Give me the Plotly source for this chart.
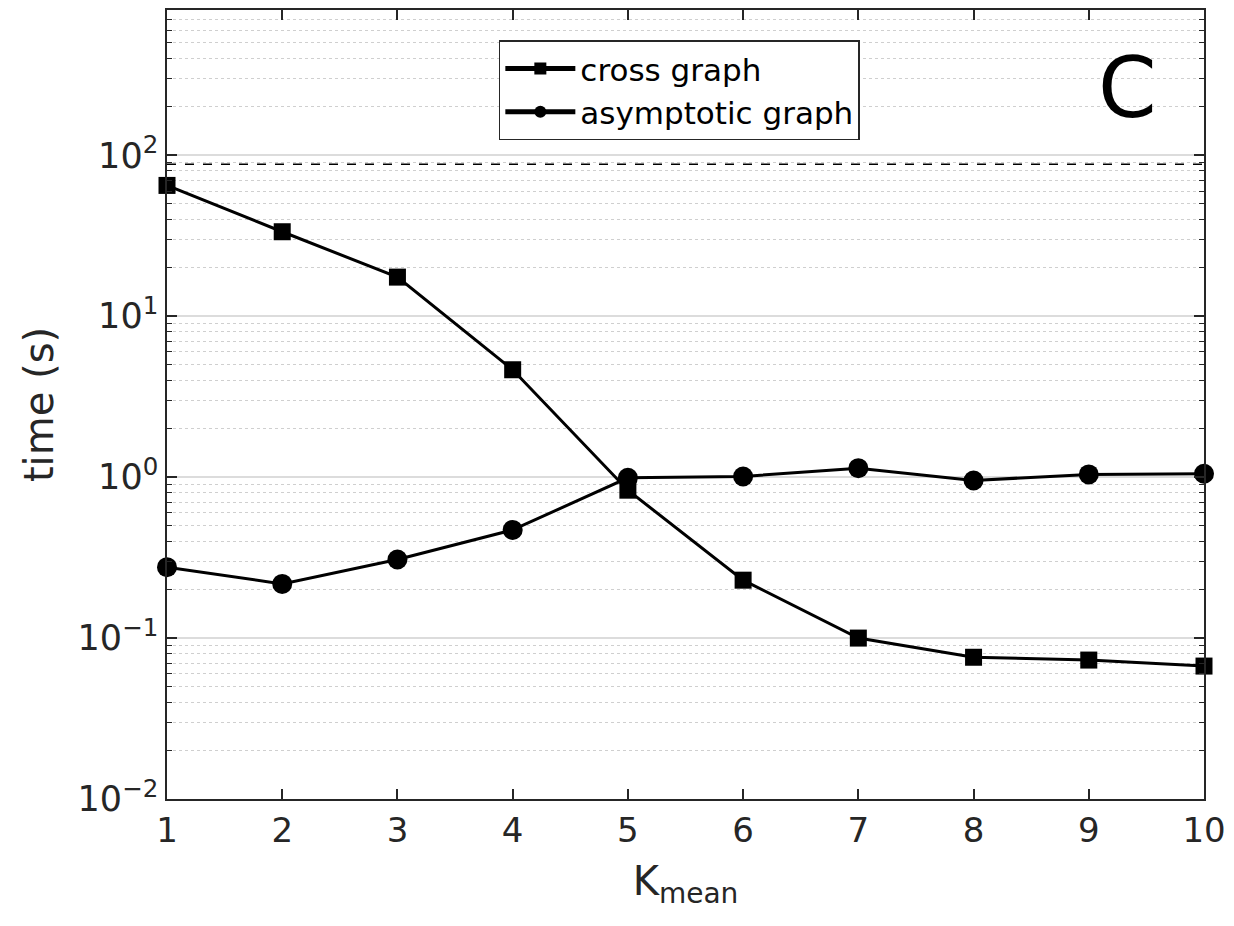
import plotly.graph_objects as go

k_mean = [1, 2, 3, 4, 5, 6, 7, 8, 9, 10]
cross_graph = [65.0, 33.5, 17.5, 4.65, 0.83, 0.229, 0.100, 0.076, 0.073, 0.067]
asymptotic_graph = [0.276, 0.217, 0.308, 0.470, 0.99, 1.01, 1.137, 0.954, 1.04, 1.05]
ref_level = 88.0
y_tick_vals = [0.01, 0.1, 1, 10, 100]
y_tick_text = ["10<sup>\u22122</sup>", "10<sup>\u22121</sup>", "10<sup>0</sup>", "10<sup>1</sup>", "10<sup>2</sup>"]
x_tick_vals = [1, 2, 3, 4, 5, 6, 7, 8, 9, 10]
minor_vals = [m * 10 ** e for e in range(-2, 3) for m in range(2, 10)]

ink = "#262626"
font_family = "DejaVu Sans, Verdana, sans-serif"

fig = go.Figure()
fig.add_trace(go.Scatter(
    x=[k_mean[0], k_mean[-1]], y=[ref_level, ref_level], mode="lines",
    line=dict(color="black", width=1.5, dash="dash"), showlegend=False, hoverinfo="skip"))
fig.add_trace(go.Scatter(
    x=k_mean, y=cross_graph, mode="lines+markers", name="cross graph",
    line=dict(color="black", width=3),
    marker=dict(symbol="square", size=17, color="black"), cliponaxis=False))
fig.add_trace(go.Scatter(
    x=k_mean, y=asymptotic_graph, mode="lines+markers", name="asymptotic graph",
    line=dict(color="black", width=3),
    marker=dict(symbol="circle", size=20, color="black"), cliponaxis=False))

fig.update_layout(
    width=1234, height=926,
    margin=dict(l=167, r=27, t=8, b=127),
    paper_bgcolor="white", plot_bgcolor="white",
    font=dict(family=font_family, color=ink, size=34),
    showlegend=True,
    legend=dict(x=0.320, y=0.9615, xanchor="left", yanchor="top",
                bgcolor="white", bordercolor=ink, borderwidth=1.5,
                font=dict(size=31, color="black"), tracegroupgap=0,
                itemsizing="constant", itemwidth=70),
    annotations=[dict(text="C", x=0.926, y=0.901, xref="paper", yref="paper",
                      showarrow=False, font=dict(size=84, color="black"),
                      xanchor="center", yanchor="middle")],
)
fig.update_xaxes(
    range=[1, 10], tickvals=x_tick_vals, showgrid=False, zeroline=False,
    showline=True, linecolor=ink, linewidth=1.5, mirror="ticks",
    ticks="inside", ticklen=10, tickwidth=1.5, tickcolor=ink,
    tickfont=dict(size=34, color=ink),
    title=dict(text="K<sub>mean</sub>", font=dict(size=40, color=ink), standoff=18))
fig.update_yaxes(
    type="log", range=[-2, 2.903], tickvals=y_tick_vals, ticktext=y_tick_text,
    showgrid=True, gridcolor="#dcdcdc", gridwidth=1.5, zeroline=False,
    showline=True, linecolor=ink, linewidth=1.5, mirror="ticks",
    ticks="inside", ticklen=10, tickwidth=1.5, tickcolor=ink,
    tickfont=dict(size=35, color=ink),
    minor=dict(tickmode="array", tickvals=minor_vals, ticks="inside", ticklen=5,
               tickwidth=1.2, tickcolor=ink, showgrid=True, gridcolor="#cfcfcf",
               griddash="dot", gridwidth=1),
    title=dict(text="time (s)", font=dict(size=40, color=ink), standoff=12))

fig.write_html("out.html")
